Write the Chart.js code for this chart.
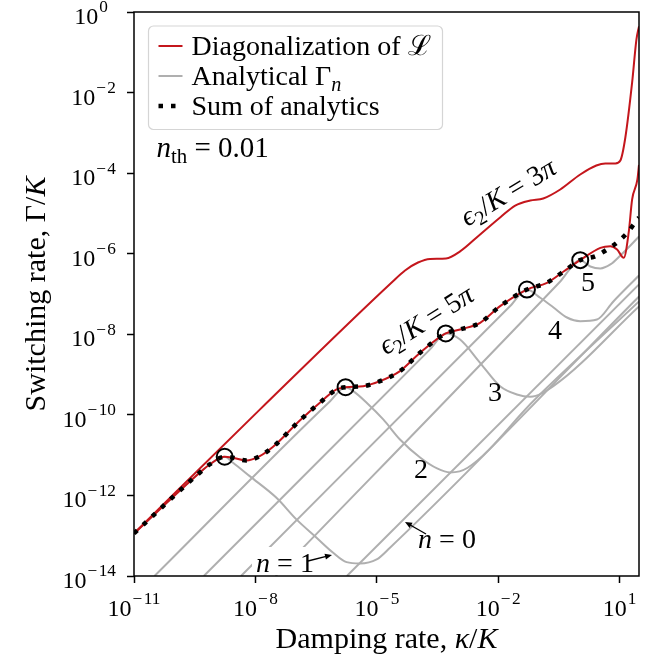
<!DOCTYPE html>
<html>
<head>
<meta charset="utf-8">
<title>Switching rate vs damping rate</title>
<script src="https://cdn.jsdelivr.net/npm/chart.js@4.4.1/dist/chart.umd.min.js"></script>
<style>
  html, body { margin: 0; background: #ffffff; }
  #box { position: relative; width: 654px; height: 660px; }
</style>
</head>
<body>
<div id="box"><canvas id="rates"></canvas></div>
<script>
// tick exponents
const xTickExps = [-11, -8, -5, -2, 1];
const yTickExps = [0, -2, -4, -6, -8, -10, -12, -14];

// diagonalization of the Liouvillian, eps2/K = 3 pi
const diag3piKappa = [1e-11, 1.28e-8, 2.51e-5, 4.97e-5, 1.04e-4, 2.06e-4, 5.13e-4, 1.14e-3, 3.56e-3, 1.11e-2, 2.62e-2, 6.17e-2, 0.129, 0.340, 1.06, 2.65, 4.43, 7.83, 10.4, 13.8, 20.3, 25.9, 30];
const diag3piRate = [1.14e-13, 1.35e-10, 2.08e-7, 3.84e-7, 6.05e-7, 7.41e-7, 7.62e-7, 1.14e-6, 3.01e-6, 7.94e-6, 1.57e-5, 2.09e-5, 2.35e-5, 3.93e-5, 9.27e-5, 1.55e-4, 1.74e-4, 1.74e-4, 2.06e-4, 7.67e-4, 1.78e-2, 0.207, 0.44];

// diagonalization, eps2/K = 5 pi
const diag5piKappa = [1e-11, 4.18e-10, 7.40e-10, 1.74e-9, 2.79e-9, 5.98e-9, 1.28e-8, 2.73e-8, 1.25e-7, 3.91e-7, 1.01e-6, 1.69e-6, 4.60e-6, 1.19e-5, 3.73e-5, 1.17e-4, 5.05e-4, 1.14e-3, 3.56e-3, 1.11e-2, 5.11e-2, 0.160, 0.411, 1.06, 3.33, 5.89, 8.63, 12.6, 16.7, 20.3, 27.4, 30];
const diag5piRate = [1.14e-13, 3.66e-12, 5.87e-12, 9.12e-12, 8.61e-12, 7.38e-12, 9.44e-12, 1.61e-11, 7.26e-11, 2.0e-10, 4.27e-10, 4.86e-10, 5.15e-10, 6.85e-10, 1.22e-9, 3.48e-9, 1.05e-8, 1.32e-8, 1.93e-8, 4.99e-8, 1.29e-7, 1.90e-7, 3.62e-7, 6.92e-7, 1.40e-6, 1.54e-6, 1.27e-6, 7.93e-7, 3.37e-6, 2.22e-5, 6.97e-5, 1.6e-4];

// sum of the analytical rates
const sumKappa = [1e-11, 4.18e-10, 7.40e-10, 1.74e-9, 2.79e-9, 5.98e-9, 1.28e-8, 2.73e-8, 1.25e-7, 3.91e-7, 1.01e-6, 1.69e-6, 4.60e-6, 1.19e-5, 3.73e-5, 1.17e-4, 5.05e-4, 1.14e-3, 3.56e-3, 1.11e-2, 5.11e-2, 0.160, 0.411, 1.06, 2.52, 4.89, 9.44, 16.7, 27.0, 30];
const sumRate = [1.14e-13, 3.66e-12, 5.87e-12, 9.12e-12, 8.61e-12, 7.38e-12, 9.44e-12, 1.61e-11, 7.26e-11, 2.0e-10, 4.27e-10, 4.86e-10, 5.15e-10, 6.85e-10, 1.22e-9, 3.48e-9, 1.05e-8, 1.32e-8, 1.93e-8, 4.99e-8, 1.29e-7, 1.90e-7, 3.62e-7, 6.92e-7, 8.69e-7, 1.27e-6, 2.05e-6, 3.62e-6, 7.08e-6, 7.9e-6];

// maxima of the individual rates
const peakKappa = [1.74e-9, 1.69e-6, 5.05e-4, 5.11e-2, 1.06];
const peakRate = [9.12e-12, 4.86e-10, 1.05e-8, 1.29e-7, 6.92e-7];

// analytical Gamma_n, n = 0..5
const gamma0Kappa = [1.82e-6, 30];
const gamma0Rate = [1e-14, 1.73e-7];
const gamma1Kappa = [1e-11, 4.18e-10, 7.40e-10, 1.74e-9, 2.79e-9, 7.23e-9, 3.31e-8, 1.03e-7, 3.24e-7, 8.34e-7, 1.79e-6, 3.82e-6, 9.89e-6, 2.11e-5, 30];
const gamma1Rate = [1.14e-13, 3.66e-12, 5.87e-12, 9.12e-12, 6.47e-12, 3.01e-12, 8.75e-13, 2.54e-13, 8.91e-14, 3.78e-14, 2.21e-14, 2.05e-14, 2.58e-14, 5.04e-14, 8.69e-8];
const gamma2Kappa = [3.21e-11, 6.9e-7, 1.69e-6, 2.61e-6, 5.6e-6, 1.44e-5, 3.73e-5, 1.17e-4, 3.08e-4, 6.46e-4, 1.75e-3, 8.02e-2, 30];
const gamma2Rate = [1e-14, 2.15e-10, 4.86e-10, 3.87e-10, 2.0e-10, 7.69e-11, 2.45e-11, 8.75e-12, 4.68e-12, 3.72e-12, 4.86e-12, 2.41e-10, 6.53e-8];
const gamma3Kappa = [5.31e-10, 2.06e-4, 5.05e-4, 1.14e-3, 3.56e-3, 1.11e-2, 2.88e-2, 6.17e-2, 0.229, 30];
const gamma3Rate = [1e-14, 4.23e-9, 1.05e-8, 7.43e-9, 1.96e-9, 5.15e-10, 3.21e-10, 2.81e-10, 5.15e-10, 4.91e-8];
const gamma4Kappa = [4.41e-9, 1.97e-2, 5.11e-2, 0.109, 0.232, 0.499, 1.06, 2.75, 6.98, 30];
const gamma4Rate = [1e-14, 5.02e-8, 1.29e-7, 8.05e-8, 4.63e-8, 2.61e-8, 2.12e-8, 2.33e-8, 6.53e-8, 2.88e-7];
const gamma5Kappa = [3.18e-8, 0.340, 1.06, 1.88, 3.33, 5.89, 10.4, 18.4, 30];
const gamma5Rate = [1e-14, 2.05e-7, 6.92e-7, 4.82e-7, 4.31e-7, 5.41e-7, 9.04e-7, 1.60e-6, 2.68e-6];

const RED = '#c4161c';
const GRAY = '#afafaf';
const SERIF = '"Liberation Serif", "DejaVu Serif", serif';

const toPoints = (xs, ys) => xs.map((x, i) => ({ x: x, y: ys[i] }));

function curve(label, xs, ys, color, width, order) {
  return {
    label: label,
    data: toPoints(xs, ys),
    borderColor: color,
    borderWidth: width,
    pointRadius: 0,
    fill: false,
    cubicInterpolationMode: 'monotone',
    order: order
  };
}

// draws a run of text pieces: [text, kind, gapAfter], kind = '', 'i', 'sub', 'isub', 'sup'
function richText(ctx, parts, x, y, size, align) {
  const pieces = parts.map(([t, k = '', gap = 0]) => {
    const small = k.includes('sub') || k.includes('sup');
    const fs = small ? size * 0.72 : size;
    const font = (k.startsWith('i') ? 'italic ' : '') + fs + 'px ' + SERIF;
    ctx.font = font;
    const dy = k.includes('sub') ? size * 0.2 : (k.includes('sup') ? -size * 0.48 : 0);
    return { t: t, font: font, dy: dy, w: ctx.measureText(t).width + gap };
  });
  const total = pieces.reduce((s, p) => s + p.w, 0);
  let cx = align === 'center' ? x - total / 2 : (align === 'right' ? x - total : x);
  ctx.textAlign = 'left';
  ctx.textBaseline = 'alphabetic';
  for (const p of pieces) {
    ctx.font = p.font;
    ctx.fillText(p.t, cx, y + p.dy);
    cx += p.w;
  }
  return total;
}

function arrow(ctx, x0, y0, x1, y1) {
  const a = Math.atan2(y1 - y0, x1 - x0);
  const c = Math.cos(a), s = Math.sin(a);
  ctx.lineWidth = 1.3;
  ctx.beginPath();
  ctx.moveTo(x0, y0);
  ctx.lineTo(x1 - 5 * c, y1 - 5 * s);
  ctx.stroke();
  ctx.beginPath();
  ctx.moveTo(x1, y1);
  ctx.lineTo(x1 - 7 * c + 3 * s, y1 - 7 * s - 3 * c);
  ctx.lineTo(x1 - 7 * c - 3 * s, y1 - 7 * s + 3 * c);
  ctx.closePath();
  ctx.fill();
}

function expLabel(e) {
  if (e < 0) return [['10', '', 1], ['\u2212', 'sup', 1.5], [String(-e), 'sup']];
  return [['10', '', 1], [String(e), 'sup']];
}

const decorations = {
  id: 'decorations',
  afterDatasetsDraw(chart) {
    const ctx = chart.ctx;
    ctx.save();
    // n = 1 sits on a white patch over the grey curves
    ctx.fillStyle = '#ffffff';
    ctx.fillRect(252, 547, 66, 28);
    ctx.fillStyle = '#000000';
    ctx.strokeStyle = '#000000';
    richText(ctx, [['n', 'i'], [' = 1']], 285, 572, 28, 'center');
    arrow(ctx, 308, 561, 332, 555);
    richText(ctx, [['n', 'i'], [' = 0']], 447, 548, 28, 'center');
    arrow(ctx, 426, 534, 405, 522);
    ctx.restore();
  },
  afterDraw(chart) {
    const ctx = chart.ctx;
    const area = chart.chartArea;
    const xs = chart.scales.x, ys = chart.scales.y;
    ctx.save();

    // frame
    ctx.strokeStyle = '#000000';
    ctx.lineWidth = 1.5;
    ctx.strokeRect(area.left, area.top, area.right - area.left, area.bottom - area.top);

    // tick labels
    ctx.fillStyle = '#000000';
    xTickExps.forEach(e => {
      richText(ctx, expLabel(e), xs.getPixelForValue(Math.pow(10, e)), area.bottom + 40, 24, 'center');
    });
    yTickExps.forEach(e => {
      const right = e === 0 ? 108 : 116;
      richText(ctx, expLabel(e), right, ys.getPixelForValue(Math.pow(10, e)) + 12, 24, 'right');
    });

    // axis titles
    richText(ctx, [['Damping rate, '], ['\u03ba', 'i'], ['/'], ['K', 'i']], (area.left + area.right) / 2, 648, 30, 'center');
    ctx.save();
    ctx.translate(45, (area.top + area.bottom) / 2);
    ctx.rotate(-Math.PI / 2);
    richText(ctx, [['Switching rate, \u0393/'], ['K', 'i']], 0, 0, 30, 'center');
    ctx.restore();

    // legend
    const lx = 148.5, ly = 26, lw = 294, lh = 103.5;
    ctx.beginPath();
    ctx.roundRect(lx, ly, lw, lh, 5);
    ctx.fillStyle = 'rgba(255,255,255,0.8)';
    ctx.fill();
    ctx.strokeStyle = '#d5d5d5';
    ctx.lineWidth = 1.2;
    ctx.stroke();
    const rows = [
      { parts: [['Diagonalization of \u2112']], color: RED, width: 2, dash: [] },
      { parts: [['Analytical \u0393'], ['n', 'isub']], color: GRAY, width: 2, dash: [] },
      { parts: [['Sum of analytics']], color: '#000000', width: 4.5, dash: [4.5, 8] }
    ];
    rows.forEach((r, i) => {
      const cy = 46 + i * 30;
      ctx.strokeStyle = r.color;
      ctx.lineWidth = r.width;
      ctx.setLineDash(r.dash);
      ctx.lineCap = 'butt';
      ctx.beginPath();
      ctx.moveTo(158.5, cy);
      ctx.lineTo(182.5, cy);
      ctx.stroke();
      ctx.setLineDash([]);
      ctx.fillStyle = '#000000';
      richText(ctx, r.parts, 191.5, cy + 9, 28, 'left');
    });

    // parameter note
    richText(ctx, [['n', 'i'], ['th', 'sub'], [' = 0.01']], 156.5, 157, 29, 'left');

    // curve annotations
    const tilted = (parts, x, y, deg) => {
      ctx.save();
      ctx.translate(x, y);
      ctx.rotate(deg * Math.PI / 180);
      richText(ctx, parts, 0, 9, 28, 'center');
      ctx.restore();
    };
    tilted([['\u03f5', 'i'], ['2', 'sub'], ['/'], ['K', 'i'], [' = 3'], ['\u03c0', 'i']], 508, 192, -31);
    tilted([['\u03f5', 'i'], ['2', 'sub'], ['/'], ['K', 'i'], [' = 5'], ['\u03c0', 'i']], 426, 320, -32);
    [['5', 588, 282], ['4', 555, 330], ['3', 495, 392], ['2', 421, 469]].forEach(([t, x, y]) => {
      richText(ctx, [[t]], x, y + 9, 28, 'center');
    });
    ctx.restore();
  }
};

const datasets = [
  {
    label: 'Peaks',
    data: toPoints(peakKappa, peakRate),
    showLine: false,
    pointRadius: 8,
    pointBorderWidth: 2,
    pointBorderColor: '#000000',
    pointBackgroundColor: 'rgba(0,0,0,0)',
    order: 0
  },
  Object.assign(curve('Sum of analytics', sumKappa, sumRate, '#000000', 4.5, 1), { borderDash: [4.5, 8], borderCapStyle: 'butt' }),
  curve('Diagonalization 5pi', diag5piKappa, diag5piRate, RED, 2, 2),
  curve('Diagonalization 3pi', diag3piKappa, diag3piRate, RED, 2, 2),
  curve('Gamma 0', gamma0Kappa, gamma0Rate, GRAY, 2, 3),
  curve('Gamma 1', gamma1Kappa, gamma1Rate, GRAY, 2, 3),
  curve('Gamma 2', gamma2Kappa, gamma2Rate, GRAY, 2, 3),
  curve('Gamma 3', gamma3Kappa, gamma3Rate, GRAY, 2, 3),
  curve('Gamma 4', gamma4Kappa, gamma4Rate, GRAY, 2, 3),
  curve('Gamma 5', gamma5Kappa, gamma5Rate, GRAY, 2, 3)
];

const tickGrid = { drawOnChartArea: false, drawTicks: true, tickLength: 7, tickWidth: 1.5, tickColor: '#000000' };

new Chart(document.getElementById('rates'), {
  type: 'line',
  data: { datasets: datasets },
  options: {
    responsive: true,
    maintainAspectRatio: false,
    animation: false,
    events: [],
    layout: { padding: { top: 12, right: 15, left: 0, bottom: 0 } },
    plugins: { legend: { display: false }, tooltip: { enabled: false } },
    scales: {
      x: {
        type: 'logarithmic',
        min: 1e-11,
        max: 30,
        afterBuildTicks: s => { s.ticks = xTickExps.map(e => ({ value: Math.pow(10, e) })); },
        afterFit: s => { s.height = 84; },
        ticks: { display: false },
        grid: tickGrid,
        border: { display: false }
      },
      y: {
        type: 'logarithmic',
        min: 1e-14,
        max: 1,
        afterBuildTicks: s => { s.ticks = yTickExps.map(e => ({ value: Math.pow(10, e) })); },
        afterFit: s => { s.width = 134; },
        ticks: { display: false },
        grid: tickGrid,
        border: { display: false }
      }
    }
  },
  plugins: [decorations]
});
</script>
</body>
</html>
